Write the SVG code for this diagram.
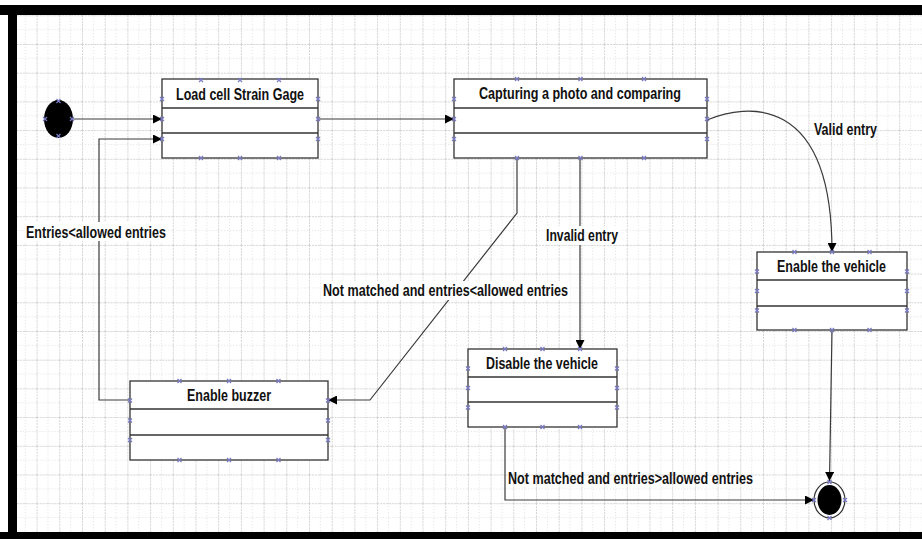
<svg xmlns="http://www.w3.org/2000/svg" width="922" height="539" viewBox="0 0 922 539">
  <defs>
    <pattern id="grid" patternUnits="userSpaceOnUse" x="331.7" y="44" width="22.7" height="28.7">
      <line x1="11.35" y1="0" x2="11.35" y2="28.7" stroke="#e0e0e0" stroke-width="1" stroke-dasharray="1,2"/>
      <line x1="0" y1="14.35" x2="22.7" y2="14.35" stroke="#e0e0e0" stroke-width="1" stroke-dasharray="1,2"/>
      <line x1="0.5" y1="0" x2="0.5" y2="28.7" stroke="#d4d4d4" stroke-width="1" stroke-dasharray="2,1"/>
      <line x1="0" y1="0.5" x2="22.7" y2="0.5" stroke="#d4d4d4" stroke-width="1" stroke-dasharray="2,1"/>
    </pattern>
    <marker id="arr" viewBox="0 0 10 10" refX="10" refY="5" markerWidth="10" markerHeight="9" markerUnits="userSpaceOnUse" orient="auto">
      <path d="M0,0 L10,5 L0,10 Z" fill="#000"/>
    </marker>
    <path id="m" d="M-2,-2L2,2M-2,2L2,-2" stroke="#7a7ac4" stroke-width="1.2" fill="none"/>
  </defs>
  <style>
    .box { fill: #ffffff; stroke: #333333; stroke-width: 1.3; }
    .div { stroke: #333333; stroke-width: 1.3; }
    .conn { fill: none; stroke: #3a3a3a; stroke-width: 1.2; }
    .t { font-family: "Liberation Sans Narrow", "Liberation Sans", Arial, sans-serif; font-weight: bold; font-size: 16.5px; fill: #111111; }
    .lbg { fill: #ffffff; }
  </style>

  <rect x="0" y="0" width="922" height="539" fill="#ffffff"/>
  <rect x="17" y="15" width="905" height="517" fill="url(#grid)"/>
  <rect x="0" y="5" width="922" height="10" fill="#000"/>
  <rect x="8" y="5" width="9" height="534" fill="#000"/>
  <rect x="0" y="532" width="922" height="7" fill="#000"/>

  <g id="connectors">
    <line class="conn" x1="72" y1="119" x2="162" y2="119" marker-end="url(#arr)"/>
    <line class="conn" x1="318" y1="119" x2="454" y2="119" marker-end="url(#arr)"/>
    <path class="conn" d="M707,120 C745,104 832,92 832,252" marker-end="url(#arr)"/>
    <line class="conn" x1="580" y1="158" x2="580" y2="349" marker-end="url(#arr)"/>
    <polyline class="conn" points="517,158 517,213 370,400 328,400" marker-end="url(#arr)"/>
    <polyline class="conn" points="130,400 99,400 99,139 162,139" marker-end="url(#arr)"/>
    <polyline class="conn" points="505,427 505,500 814,500" marker-end="url(#arr)"/>
    <line class="conn" x1="832" y1="330" x2="829.5" y2="481" marker-end="url(#arr)"/>
    <g id="labels">
      <text class="t" x="814" y="134.5" textLength="63" lengthAdjust="spacingAndGlyphs">Valid entry</text>
      <rect class="lbg" x="544" y="226" width="76" height="19"/>
      <text class="t" x="546" y="241" textLength="72" lengthAdjust="spacingAndGlyphs">Invalid entry</text>
      <rect class="lbg" x="24" y="222" width="144" height="19"/>
      <text class="t" x="26" y="237.5" textLength="140" lengthAdjust="spacingAndGlyphs">Entries&lt;allowed entries</text>
      <rect class="lbg" x="321" y="281" width="249" height="19"/>
      <text class="t" x="323" y="296" textLength="245" lengthAdjust="spacingAndGlyphs">Not matched and entries&lt;allowed entries</text>
      <text class="t" x="508" y="483.5" textLength="245" lengthAdjust="spacingAndGlyphs">Not matched and entries&gt;allowed entries</text>
    </g>
  </g>

  <g id="initial">
    <ellipse cx="58.5" cy="119" rx="14.5" ry="19" fill="#000"/>
    <use href="#m" x="58.5" y="101"/>
    <use href="#m" x="58.5" y="136"/>
    <use href="#m" x="45" y="119"/>
    <use href="#m" x="72" y="119"/>
  </g>

  <g id="load-cell">
    <rect class="box" x="162" y="79" width="156" height="79"/>
    <line class="div" x1="162" y1="108" x2="318" y2="108"/>
    <line class="div" x1="162" y1="133" x2="318" y2="133"/>
    <text class="t" x="176" y="99.5" textLength="128" lengthAdjust="spacingAndGlyphs">Load cell Strain Gage</text>
    <use href="#m" x="201" y="80"/><use href="#m" x="240" y="80"/><use href="#m" x="279" y="80"/>
    <use href="#m" x="201" y="158"/><use href="#m" x="240" y="158"/><use href="#m" x="279" y="158"/>
    <use href="#m" x="162" y="99"/><use href="#m" x="162" y="119"/><use href="#m" x="162" y="139"/>
    <use href="#m" x="318" y="99"/><use href="#m" x="318" y="119"/><use href="#m" x="318" y="139"/>
  </g>

  <g id="capturing">
    <rect class="box" x="454" y="79" width="253" height="79"/>
    <line class="div" x1="454" y1="108" x2="707" y2="108"/>
    <line class="div" x1="454" y1="133" x2="707" y2="133"/>
    <text class="t" x="479" y="99" textLength="202" lengthAdjust="spacingAndGlyphs">Capturing a photo and comparing</text>
    <use href="#m" x="517" y="79"/><use href="#m" x="580.5" y="79"/><use href="#m" x="644" y="79"/>
    <use href="#m" x="517" y="158"/><use href="#m" x="580.5" y="158"/><use href="#m" x="644" y="158"/>
    <use href="#m" x="454" y="99"/><use href="#m" x="454" y="119"/><use href="#m" x="454" y="139"/>
    <use href="#m" x="707" y="99"/><use href="#m" x="707" y="119"/><use href="#m" x="707" y="139"/>
  </g>

  <g id="enable-vehicle">
    <rect class="box" x="757" y="252" width="150" height="78"/>
    <line class="div" x1="757" y1="280" x2="907" y2="280"/>
    <line class="div" x1="757" y1="306" x2="907" y2="306"/>
    <text class="t" x="777" y="271.5" textLength="109" lengthAdjust="spacingAndGlyphs">Enable the vehicle</text>
    <use href="#m" x="794.5" y="252"/><use href="#m" x="832" y="252"/><use href="#m" x="869.5" y="252"/>
    <use href="#m" x="794.5" y="330"/><use href="#m" x="832" y="330"/><use href="#m" x="869.5" y="330"/>
    <use href="#m" x="757" y="271.5"/><use href="#m" x="757" y="291"/><use href="#m" x="757" y="310.5"/>
    <use href="#m" x="907" y="271.5"/><use href="#m" x="907" y="291"/><use href="#m" x="907" y="310.5"/>
  </g>

  <g id="disable-vehicle">
    <rect class="box" x="468" y="349" width="149" height="78"/>
    <line class="div" x1="468" y1="377" x2="617" y2="377"/>
    <line class="div" x1="468" y1="402" x2="617" y2="402"/>
    <text class="t" x="486" y="368.5" textLength="112" lengthAdjust="spacingAndGlyphs">Disable the vehicle</text>
    <use href="#m" x="505" y="349"/><use href="#m" x="542.5" y="349"/><use href="#m" x="580" y="349"/>
    <use href="#m" x="505" y="427"/><use href="#m" x="542.5" y="427"/><use href="#m" x="580" y="427"/>
    <use href="#m" x="468" y="368.5"/><use href="#m" x="468" y="388"/><use href="#m" x="468" y="407.5"/>
    <use href="#m" x="617" y="368.5"/><use href="#m" x="617" y="388"/><use href="#m" x="617" y="407.5"/>
  </g>

  <g id="enable-buzzer">
    <rect class="box" x="130" y="381" width="198" height="79"/>
    <line class="div" x1="130" y1="409" x2="328" y2="409"/>
    <line class="div" x1="130" y1="435" x2="328" y2="435"/>
    <text class="t" x="187" y="400.5" textLength="84" lengthAdjust="spacingAndGlyphs">Enable buzzer</text>
    <use href="#m" x="179.5" y="381"/><use href="#m" x="229" y="381"/><use href="#m" x="278.5" y="381"/>
    <use href="#m" x="179.5" y="460"/><use href="#m" x="229" y="460"/><use href="#m" x="278.5" y="460"/>
    <use href="#m" x="130" y="400.5"/><use href="#m" x="130" y="420.5"/><use href="#m" x="130" y="440"/>
    <use href="#m" x="328" y="400.5"/><use href="#m" x="328" y="420.5"/><use href="#m" x="328" y="440"/>
  </g>

  <g id="final">
    <ellipse cx="829.5" cy="500" rx="15.5" ry="18" fill="#ffffff" stroke="#333" stroke-width="1.2"/>
    <ellipse cx="829.5" cy="500" rx="12" ry="15" fill="#000"/>
    <use href="#m" x="829.5" y="482"/>
    <use href="#m" x="829.5" y="518"/>
    <use href="#m" x="814" y="500"/>
    <use href="#m" x="845" y="500"/>
  </g>
</svg>
